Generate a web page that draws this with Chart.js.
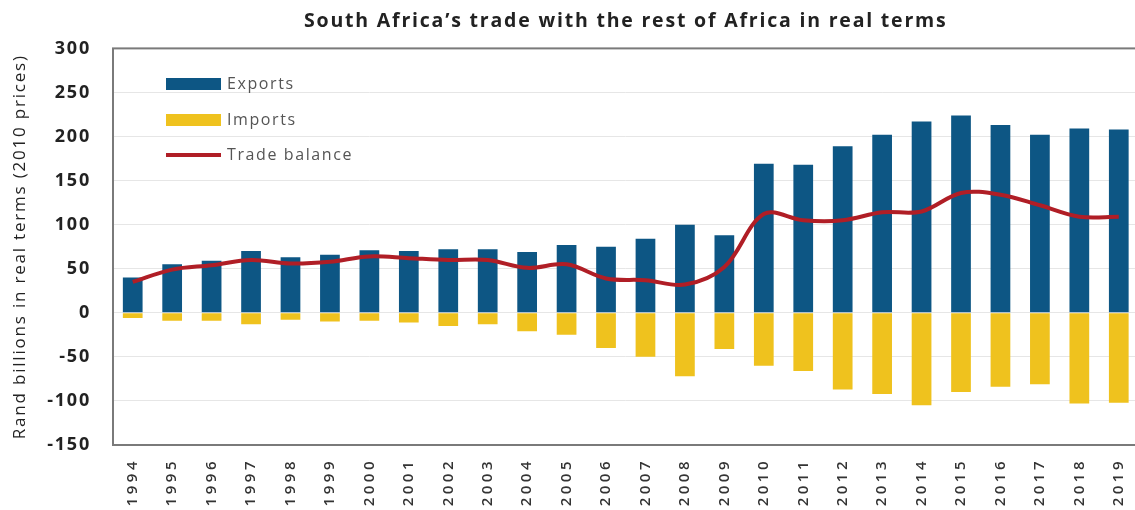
<!DOCTYPE html>
<html>
<head>
<meta charset="utf-8">
<script src="https://cdn.jsdelivr.net/npm/chart.js@4"></script>
<style>
  html, body { margin: 0; padding: 0; background: #fff; overflow: hidden; }
  #wrap { position: relative; width: 1150px; height: 510px; }
</style>
</head>
<body>
<div id="wrap"><canvas id="grafico"></canvas></div>
<script>
const anos = ["1994", "1995", "1996", "1997", "1998", "1999", "2000", "2001", "2002", "2003",
  "2004", "2005", "2006", "2007", "2008", "2009", "2010", "2011", "2012", "2013",
  "2014", "2015", "2016", "2017", "2018", "2019"];

// Rand billions, 2010 prices
const exportacoes = [40, 55, 59, 70, 63, 66, 71, 70, 72, 72,
  69, 77, 75, 84, 100, 88, 169, 168, 189, 202,
  217, 224, 213, 202, 209, 208];

const importacoes = [-6, -9, -9, -13, -8, -10, -9, -11, -15, -13,
  -21, -25, -40, -50, -72, -41, -60, -66, -87, -92,
  -105, -90, -84, -81, -103, -102];

const saldo = [35, 49, 54, 60, 56, 58, 64, 62, 60, 60,
  51, 55, 39, 37, 32, 52, 112, 105, 105, 114,
  115, 136, 134, 122, 109, 109];

const yMin = -150, yMax = 300, yPasso = 50;

const corExport = "#0d5684";
const corImport = "#efc21e";
const corSaldo = "#b01e26";
const fonte = "'Open Sans', sans-serif";

// espaçamento entre letras: texto do gráfico é largo
const espacamento = {
  id: "espacamento",
  beforeLayout(chart) { chart.ctx.letterSpacing = "1.8px"; },
  beforeDraw(chart) { chart.ctx.letterSpacing = "1.8px"; },
  afterDatasetsDraw(chart) { chart.ctx.letterSpacing = "3.5px"; }, // rótulos dos anos (z: 1)
  afterDraw(chart) { chart.ctx.letterSpacing = "0px"; }
};

// legenda dentro da área do gráfico, canto superior esquerdo
const legendaInterna = {
  id: "legendaInterna",
  afterDatasetsDraw(chart) {
    const { ctx, chartArea } = chart;
    const x0 = chartArea.left + 53;
    const linhas = [84, 120, 155];
    ctx.save();
    ctx.letterSpacing = "1.6px";
    ctx.font = "16px " + fonte;
    ctx.textBaseline = "middle";
    chart.data.datasets.forEach((ds, i) => {
      const y = linhas[i];
      if (ds.type === "line") {
        ctx.strokeStyle = ds.borderColor;
        ctx.lineWidth = 4;
        ctx.beginPath();
        ctx.moveTo(x0, y);
        ctx.lineTo(x0 + 55, y);
        ctx.stroke();
      } else {
        ctx.fillStyle = ds.backgroundColor;
        ctx.fillRect(x0, y - 6, 55, 12);
      }
      ctx.fillStyle = "#555";
      ctx.fillText(ds.label, x0 + 61, y);
    });
    ctx.restore();
  }
};

// moldura da área do gráfico
const moldura = {
  id: "moldura",
  afterDraw(chart) {
    const { ctx, chartArea } = chart;
    ctx.save();
    ctx.strokeStyle = "#7a7a7a";
    ctx.lineWidth = 2;
    ctx.strokeRect(chartArea.left, chartArea.top, chartArea.right - chartArea.left, chartArea.bottom - chartArea.top);
    ctx.restore();
  }
};

new Chart(document.getElementById("grafico"), {
  data: {
    labels: anos,
    datasets: [
      {
        type: "bar",
        label: "Exports",
        data: exportacoes,
        backgroundColor: corExport,
        barPercentage: 0.5,
        categoryPercentage: 1,
        order: 2
      },
      {
        type: "bar",
        label: "Imports",
        data: importacoes,
        backgroundColor: corImport,
        barPercentage: 0.5,
        categoryPercentage: 1,
        order: 2
      },
      {
        type: "line",
        label: "Trade balance",
        data: saldo,
        borderColor: corSaldo,
        borderWidth: 4,
        tension: 0.35,
        pointRadius: 0,
        fill: false,
        order: 1
      }
    ]
  },
  options: {
    responsive: true,
    maintainAspectRatio: false,
    animation: false,
    layout: { padding: { left: 0, right: 7, top: 0, bottom: 0 } },
    plugins: {
      legend: { display: false },
      tooltip: { enabled: false },
      title: {
        display: true,
        fullSize: false,
        text: "South Africa’s trade with the rest of Africa in real terms",
        color: "#222",
        font: { family: fonte, size: 19.5, weight: "bold" },
        padding: { top: 10, bottom: 15 }
      }
    },
    scales: {
      x: {
        stacked: true,
        grid: { display: false, drawTicks: false },
        border: { display: false },
        afterFit(scale) { scale.height = 65; },
        ticks: {
          z: 1,
          color: "#333",
          minRotation: 90,
          maxRotation: 90,
          padding: 13,
          autoSkip: false,
          font: { family: fonte, size: 15, weight: "600" }
        }
      },
      y: {
        min: yMin,
        max: yMax,
        grid: { color: "#e6e6e6", lineWidth: 1, drawTicks: false },
        border: { display: false },
        afterFit(scale) { scale.width = 113; },
        ticks: {
          stepSize: yPasso,
          color: "#222",
          padding: 22,
          font: { family: fonte, size: 18, weight: "bold" }
        },
        title: {
          display: true,
          text: "Rand billions in real terms (2010 prices)",
          color: "#222",
          padding: { top: 10, bottom: 0 },
          font: { family: fonte, size: 17 }
        }
      }
    }
  },
  plugins: [espacamento, legendaInterna, moldura]
});
</script>
</body>
</html>
